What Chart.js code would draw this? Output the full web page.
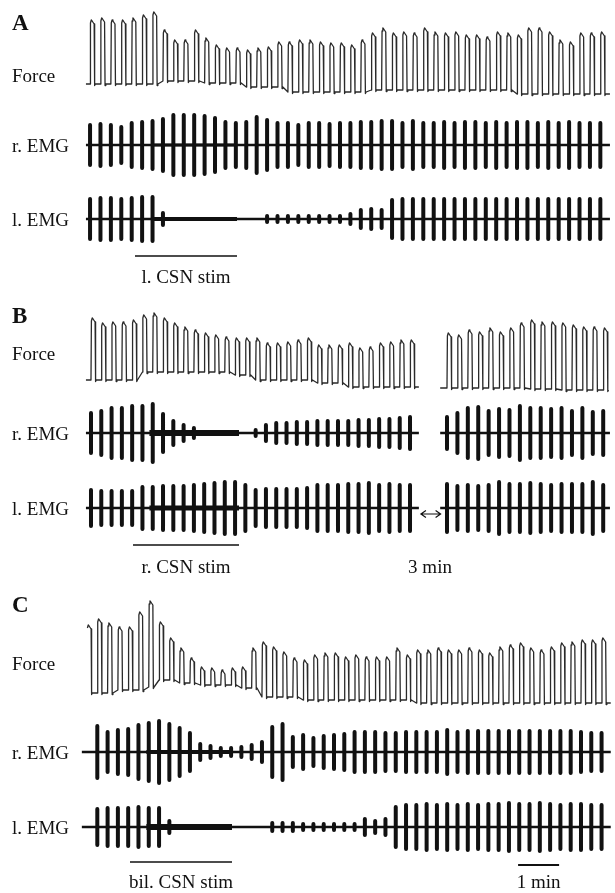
<!DOCTYPE html>
<html>
<head>
<meta charset="utf-8">
<script src="https://cdn.jsdelivr.net/npm/chart.js@4.4.1/dist/chart.umd.min.js"></script>
<style>
  html, body { margin: 0; padding: 0; background: #fff; }
  #wrap { width: 615px; height: 893px; }
</style>
</head>
<body>
<div id="wrap"><canvas id="traceChart" width="615" height="893"></canvas></div>
<script>
// values, one entry per breath (~15 s apart)
// force: peak and trough height above the panel reference line (trace units)
const aForcePeak = [80,82,80,80,82,85,88,70,60,60,70,62,55,52,52,50,52,53,58,58,60,60,58,57,57,55,60,67,72,67,68,67,72,68,67,68,65,65,63,68,67,65,72,72,68,60,58,67,67,68];
const aForceBase = [16,16,16,16,16,16,16,19,19,19,19,17,17,17,17,13,13,13,13,8,8,8,8,8,8,8,8,10,10,10,10,10,10,10,10,10,10,10,10,10,10,6,6,6,6,6,6,6,6,6];
// EMG: half-height of each burst
const aREmg = [20,21,20,18,22,23,24,26,30,30,30,29,27,23,22,23,28,25,22,22,20,22,22,21,22,22,23,23,24,24,22,24,22,22,23,22,23,23,22,23,22,23,23,22,23,22,23,22,22,22];
const aLEmg = [20,21,21,20,21,22,22,6,0,0,0,0,0,0,0,0,0,3,3,3,3,3,3,3,3,5,9,10,9,19,20,20,20,20,20,20,20,20,20,20,20,20,20,20,20,20,20,20,20,20];

const bForcePeak = [72,67,68,68,70,75,77,72,67,63,60,57,55,53,52,52,52,47,47,48,50,52,45,45,45,47,42,43,47,48,50,50];
const bForceBase = [10,10,10,10,10,18,18,18,18,18,18,18,18,18,15,15,10,10,10,10,10,10,7,7,7,3,3,3,3,3,3,3];
const bREmg = [20,22,25,25,27,27,29,19,12,8,5,0,0,0,0,0,3,8,10,10,11,11,12,12,12,12,13,13,14,14,15,16];
const bLEmg = [18,17,17,17,17,21,21,22,22,22,23,24,25,26,26,23,18,19,19,19,19,20,23,23,23,24,24,25,23,24,23,23];
// 3 min later
const bForcePeak2 = [57,55,60,58,62,58,62,67,70,68,68,67,65,63,63,62];
const bForceBase2 = [2,2,2,2,2,2,2,2,1,1,1,0,0,0,0,0];
const bREmg2 = [16,20,25,26,22,24,23,27,25,25,24,25,22,25,21,22];
const bLEmg2 = [24,22,23,22,23,26,24,24,25,24,23,24,24,24,26,23];

const cForcePeak = [80,86,82,78,78,93,104,83,67,57,47,38,37,35,37,38,57,63,58,53,47,45,50,52,52,48,50,48,48,48,57,50,55,55,57,55,55,57,55,52,58,60,62,57,55,58,62,63,65,65,67];
const cForceBase = [12,12,12,15,15,15,18,25,25,22,22,20,20,20,20,17,17,8,8,8,8,5,5,5,5,5,5,5,5,5,5,5,2,2,2,2,2,2,2,2,2,2,2,2,2,2,2,2,2,2,2];
const cREmg = [21,26,20,22,23,27,29,31,28,24,19,8,6,4,4,5,7,10,25,28,15,17,14,16,17,18,20,20,20,19,19,20,20,20,20,22,20,21,21,21,21,21,21,21,21,21,21,21,20,19,19];
const cLEmg = [17,18,19,19,19,20,19,19,6,0,0,0,0,0,0,0,0,0,4,4,4,3,3,3,3,3,3,8,6,8,20,22,22,23,22,23,22,23,22,23,23,24,23,23,24,23,22,23,23,22,22];

// timing in minutes: first breath, breath period, stimulation window
const aStart = 0.05, aPeriod = 0.254, aStim = [1.146, 3.634];
const bStart = 0.073, bPeriod = 0.251, bStim = [1.098, 3.683];
const bStart2 = 8.756, bPeriod2 = 0.254;
const cStart = -0.024, cPeriod = 0.251, cStim = [1.024, 3.512];
const scaleBar = [10.49, 11.49];

// page layout (y in page units, top = 0)
const PX_PER_MIN = 41;
const X_MAX = (608 - 88) / PX_PER_MIN;
const panels = [
  { letter: 'A', letterY: 30, forceRef: 100, forceLabelY: 82, rY: 145, lY: 219, stimY: 256, stimLabel: 'l. CSN stim', stimLabelY: 283,
    stim: aStim, rArt: 3, lArt: 4,
    segs: [{ t0: aStart, p: aPeriod, peak: aForcePeak, base: aForceBase, r: aREmg, l: aLEmg, from: -0.05, to: 12.73 }] },
  { letter: 'B', letterY: 323, forceRef: 390, forceLabelY: 360, rY: 433, lY: 508, stimY: 545, stimLabel: 'r. CSN stim', stimLabelY: 573,
    stim: bStim, rArt: 6, lArt: 5,
    segs: [{ t0: bStart, p: bPeriod, peak: bForcePeak, base: bForceBase, r: bREmg, l: bLEmg, from: -0.05, to: 8.07 },
           { t0: bStart2, p: bPeriod2, peak: bForcePeak2, base: bForceBase2, r: bREmg2, l: bLEmg2, from: 8.59, to: 12.73 }] },
  { letter: 'C', letterY: 612, forceRef: 705, forceLabelY: 670, rY: 752, lY: 827, stimY: 862, stimLabel: 'bil. CSN stim', stimLabelY: 888,
    stim: cStim, rArt: 4, lArt: 6,
    segs: [{ t0: cStart, p: cPeriod, peak: cForcePeak, base: cForceBase, r: cREmg, l: cLEmg, from: -0.15, to: 12.75 }] }
];

// force trace: fast rise, rounded top, drop back to trough
function forcePoints(seg, ref) {
  const pts = [{ x: seg.from, y: ref - seg.base[0] }];
  seg.peak.forEach((pk, i) => {
    const t = seg.t0 + i * seg.p;
    const b = ref - seg.base[i];
    const top = ref - pk;
    pts.push({ x: t, y: b });
    pts.push({ x: t + 0.01, y: top + 3 });
    pts.push({ x: t + 0.03, y: top });
    pts.push({ x: t + 0.05, y: top + 1 });
    pts.push({ x: t + 0.1, y: top + 4 });
    pts.push({ x: t + 0.112, y: b + 1.5 });
    pts.push({ x: t + 0.13, y: b });
  });
  pts.push({ x: seg.to, y: ref - seg.base[seg.base.length - 1] });
  pts.push({ x: seg.to, y: null });
  return pts;
}

function burstPoints(seg, amps, y0) {
  const pts = [];
  amps.forEach((a, i) => {
    if (!a) return;
    const t = seg.t0 + i * seg.p;
    pts.push({ x: t, y: y0 - a }, { x: t, y: y0 + a }, { x: t, y: null });
  });
  return pts;
}

function lineDs(data, width, color) {
  return {
    data, borderColor: color || '#111', borderWidth: width, pointRadius: 0,
    tension: 0, clip: false, fill: false, spanGaps: false,
    borderJoinStyle: 'round', borderCapStyle: 'butt'
  };
}

const datasets = [];
panels.forEach(pn => {
  const force = [], rBase = [], lBase = [], rBursts = [], lBursts = [];
  pn.segs.forEach(seg => {
    force.push(...forcePoints(seg, pn.forceRef));
    rBase.push({ x: seg.from, y: pn.rY }, { x: seg.to, y: pn.rY }, { x: seg.to, y: null });
    lBase.push({ x: seg.from, y: pn.lY }, { x: seg.to, y: pn.lY }, { x: seg.to, y: null });
    rBursts.push(...burstPoints(seg, seg.r, pn.rY));
    lBursts.push(...burstPoints(seg, seg.l, pn.lY));
  });
  datasets.push(lineDs(force, 1.3, '#2a2a2a'));
  datasets.push(lineDs(rBase, 2.6));
  datasets.push(lineDs(lBase, 2.6));
  datasets.push(lineDs(rBursts, 4));
  datasets.push(lineDs(lBursts, 4));
  // stimulus artefact thickens the EMG baseline
  datasets.push(lineDs([{ x: pn.stim[0] + 0.4, y: pn.rY }, { x: pn.stim[1], y: pn.rY }], pn.rArt));
  datasets.push(lineDs([{ x: pn.stim[0] + 0.4, y: pn.lY }, { x: pn.stim[1], y: pn.lY }], pn.lArt));
  // stimulation bar
  datasets.push(lineDs([{ x: pn.stim[0], y: pn.stimY }, { x: pn.stim[1], y: pn.stimY }], 1.5));
});
datasets.push(lineDs([{ x: scaleBar[0], y: 865 }, { x: scaleBar[1], y: 865 }], 1.8));

const serif = '"Liberation Serif", "Times New Roman", serif';

const labelsPlugin = {
  id: 'traceLabels',
  afterDraw(chart) {
    const ctx = chart.ctx;
    const ys = chart.scales.y, xs = chart.scales.x;
    ctx.save();
    ctx.fillStyle = '#111';
    ctx.textBaseline = 'alphabetic';
    panels.forEach(pn => {
      ctx.textAlign = 'left';
      ctx.font = 'bold 23px ' + serif;
      ctx.fillText(pn.letter, 12, ys.getPixelForValue(pn.letterY));
      ctx.font = '19px ' + serif;
      ctx.fillText('Force', 12, ys.getPixelForValue(pn.forceLabelY));
      ctx.fillText('r. EMG', 12, ys.getPixelForValue(pn.rY + 7));
      ctx.fillText('l. EMG', 12, ys.getPixelForValue(pn.lY + 7));
      ctx.textAlign = 'center';
      const mid = (xs.getPixelForValue(pn.stim[0]) + xs.getPixelForValue(pn.stim[1])) / 2;
      ctx.fillText(pn.stimLabel, mid, ys.getPixelForValue(pn.stimLabelY));
    });
    ctx.textAlign = 'center';
    ctx.fillText('3 min', 430, ys.getPixelForValue(573));
    ctx.fillText('1 min', (xs.getPixelForValue(scaleBar[0]) + xs.getPixelForValue(scaleBar[1])) / 2, ys.getPixelForValue(888));

    // double arrow marking the 3 min gap in B
    const ay = ys.getPixelForValue(514);
    const x1 = xs.getPixelForValue(8.12), x2 = xs.getPixelForValue(8.6);
    ctx.strokeStyle = '#111';
    ctx.lineWidth = 1.2;
    ctx.beginPath();
    ctx.moveTo(x1, ay); ctx.lineTo(x2, ay);
    ctx.moveTo(x1 + 5, ay - 3.5); ctx.lineTo(x1, ay); ctx.lineTo(x1 + 5, ay + 3.5);
    ctx.moveTo(x2 - 5, ay - 3.5); ctx.lineTo(x2, ay); ctx.lineTo(x2 - 5, ay + 3.5);
    ctx.stroke();
    ctx.restore();
  }
};

new Chart(document.getElementById('traceChart'), {
  type: 'line',
  data: { datasets },
  options: {
    responsive: false,
    animation: false,
    layout: { padding: { left: 88, right: 7, top: 0, bottom: 0 } },
    plugins: { legend: { display: false }, tooltip: { enabled: false } },
    scales: {
      x: { type: 'linear', min: 0, max: X_MAX, display: false },
      y: { type: 'linear', min: 0, max: 893, reverse: true, display: false }
    }
  },
  plugins: [labelsPlugin]
});
</script>
</body>
</html>
